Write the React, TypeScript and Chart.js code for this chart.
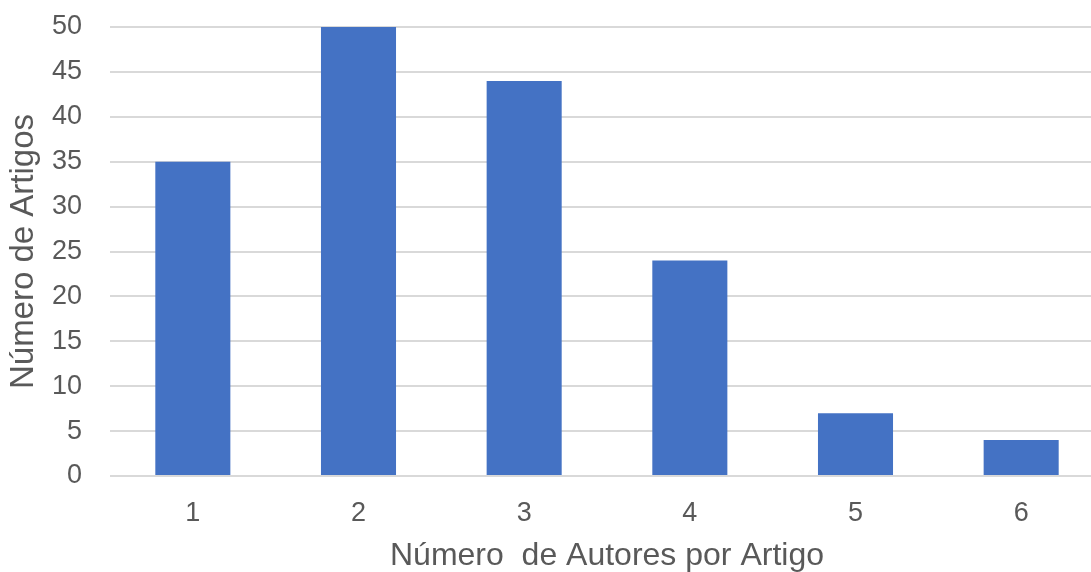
import React, { useEffect, useRef } from "react";
import { Chart, registerables } from "chart.js";

Chart.register(...registerables);

const categories: string[] = ["1", "2", "3", "4", "5", "6"];
const articleCounts: number[] = [35, 50, 44, 24, 7, 4];
const yTicks: number[] = [0, 5, 10, 15, 20, 25, 30, 35, 40, 45, 50];

const xTitle = "Número  de Autores por Artigo";
const yTitle = "Número de Artigos";

const FONT = "'Liberation Sans', Arial, sans-serif";
const TEXT = "#595959";

export default function App() {
  const canvasRef = useRef<HTMLCanvasElement | null>(null);

  useEffect(() => {
    const canvas = canvasRef.current;
    if (!canvas) return;
    const chart = new Chart(canvas, {
      type: "bar",
      data: {
        labels: categories,
        datasets: [
          {
            data: articleCounts,
            backgroundColor: "#4472C4",
            borderWidth: 0,
            categoryPercentage: 1,
            barPercentage: 0.453,
          },
        ],
      },
      options: {
        animation: false,
        responsive: false,
        devicePixelRatio: 1,
        layout: { padding: { top: 27, left: 0, right: 0, bottom: 0 } },
        plugins: {
          legend: { display: false },
          tooltip: { enabled: false },
        },
        scales: {
          x: {
            grid: { display: false },
            border: { display: false },
            ticks: {
              color: TEXT,
              font: { family: FONT, size: 27 },
              padding: 13,
            },
            title: {
              display: true,
              text: xTitle,
              color: TEXT,
              font: { family: FONT, size: 32 },
              padding: { top: 0, bottom: 25 },
            },
            afterFit: (scale: any) => {
              scale.height = 124;
              scale.paddingLeft = 0;
              scale.paddingRight = 0;
            },
          },
          y: {
            min: 0,
            max: 50,
            afterBuildTicks: (scale: any) => {
              scale.ticks = yTicks.map((v) => ({ value: v }));
            },
            grid: {
              color: "#d9d9d9",
              lineWidth: 2,
              drawTicks: false,
            },
            border: { display: false },
            ticks: {
              color: TEXT,
              font: { family: FONT, size: 27 },
              padding: 28,
            },
            title: {
              display: true,
              text: yTitle,
              color: TEXT,
              font: { family: FONT, size: 33 },
              padding: { top: 4, bottom: 0 },
            },
            afterFit: (scale: any) => {
              scale.width = 110;
              scale.paddingTop = 0;
              scale.paddingBottom = 0;
            },
          },
        },
      },
    });
    return () => chart.destroy();
  }, []);

  return (
    <div
      style={{
        position: "fixed",
        left: 0,
        top: 0,
        width: 1091,
        height: 572,
        overflow: "hidden",
        background: "#ffffff",
      }}
    >
      <canvas
        ref={canvasRef}
        width={1104}
        height={600}
        style={{ width: 1104, height: 600, display: "block" }}
      />
    </div>
  );
}
